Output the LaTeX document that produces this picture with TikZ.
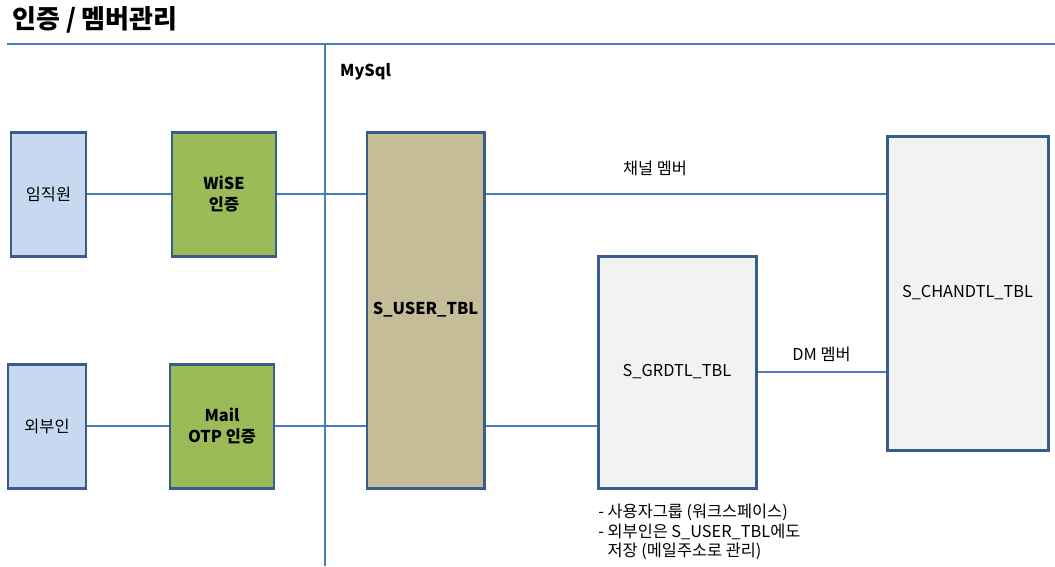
\documentclass[tikz,border=0pt]{standalone}
\usepackage{fontspec}
\setmainfont{Noto Sans CJK KR}
\usetikzlibrary{positioning}
\definecolor{edgeblue}{RGB}{56,93,138}
\definecolor{lineblue}{RGB}{74,126,187}
\definecolor{userfill}{RGB}{198,217,241}
\definecolor{authfill}{RGB}{155,187,89}
\definecolor{tblfill}{RGB}{196,189,151}
\definecolor{greyfill}{RGB}{242,242,242}
\tikzset{
  box/.style={rectangle,draw=edgeblue,line width=1.7pt,font=\fontsize{9.3pt}{11.5pt}\selectfont,align=center,inner sep=0pt},
  link/.style={draw=lineblue,line width=0.6pt},
  boldtext/.style={font=\bfseries\fontsize{9.3pt}{11.5pt}\selectfont}
}
\begin{document}
\begin{tikzpicture}[x=0.2mm,y=-0.2mm]
\useasboundingbox (0,0) rectangle (1055,566);
% frame lines
\draw[link] (7,44) -- (1055,44);
\draw[link] (325,44) -- (325,566);
\node[anchor=west,font=\bfseries\fontsize{14.8pt}{17pt}\selectfont] (title) at (6,20) {인증 / 멤버관리};
\node[anchor=west,boldtext] (db) at (334,72) {MySql};

\begin{scope}[every node/.style={box}]
\node[fill=userfill,minimum width=75*0.2mm,minimum height=124*0.2mm] (emp) at (48.5,194) {임직원};
\node[fill=authfill,minimum width=104*0.2mm,minimum height=124*0.2mm,boldtext] (wise) at (224,194) {WiSE\\인증};
\node[fill=userfill,minimum width=78*0.2mm,minimum height=124*0.2mm] (ext) at (47,426) {외부인};
\node[fill=authfill,minimum width=104*0.2mm,minimum height=124*0.2mm,boldtext] (mail) at (222,426) {Mail\\OTP 인증};
\node[fill=tblfill,minimum width=117*0.2mm,minimum height=356*0.2mm,boldtext] (user) at (425.5,310) {S\_USER\_TBL};
\node[fill=greyfill,minimum width=158*0.2mm,minimum height=232*0.2mm] (grd) at (677,372) {S\_GRDTL\_TBL};
\node[fill=greyfill,minimum width=161*0.2mm,minimum height=314*0.2mm] (chan) at (967.5,293) {S\_CHANDTL\_TBL};
\end{scope}

\coordinate (dm) at (0,372);
\path[link] (emp) -- (wise);
\path[link] (wise) -- (wise -| user.west);
\path[link] (ext) -- (mail);
\path[link] (mail) -- (mail -| user.west);
\path[link] (user.east |- wise) -- (chan.west |- wise)
  node[pos=0.424,above=7pt,font=\fontsize{9.3pt}{11.5pt}\selectfont] (chlabel) {채널 멤버};
\path[link] (user.east |- mail) -- (grd.west |- mail);
\path[link] (grd.east |- dm) -- (chan.west |- dm)
  node[midway,above=2pt,font=\fontsize{9.3pt}{11.5pt}\selectfont] (dmlabel) {DM 멤버};

\node[anchor=north west,align=left,inner sep=0pt,font=\fontsize{9.3pt}{11pt}\selectfont] (note) at (598,504)
  {- 사용자그룹 (워크스페이스)\\- 외부인은 S\_USER\_TBL에도\\\phantom{- }저장 (메일주소로 관리)};
\end{tikzpicture}
\end{document}
